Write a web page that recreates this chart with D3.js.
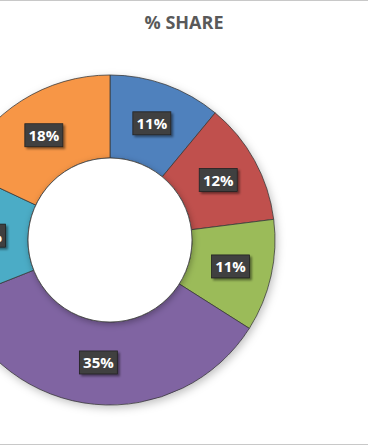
<!DOCTYPE html>
<html>
<head>
<meta charset="utf-8">
<script src="https://cdn.jsdelivr.net/npm/d3@7"></script>
<style>
  body { margin: 0; background: #fff; }
  svg { display: block; }
</style>
</head>
<body>
<script>
// slices, clockwise from 12 o'clock
var categories = ["A", "B", "C", "D", "E", "F"];
var shares = [11, 12, 11, 35, 13, 18];
var colors = ["#4F81BD", "#C0504D", "#9BBB59", "#8064A2", "#4BACC6", "#F79646"];
var title = "% SHARE";

var width = 368, height = 445;
var cx = 110, cy = 240,
	outerR = 165, innerR = 82;

var svg = d3.select("body").append("svg")
	.attr("width", width)
	.attr("height", height);

var defs = svg.append("defs");

var ringShadow = defs.append("filter").attr("id", "ringShadow")
	.attr("x", "-20%").attr("y", "-20%").attr("width", "140%").attr("height", "140%");
ringShadow.append("feDropShadow")
	.attr("dx", 2).attr("dy", 3).attr("stdDeviation", 4)
	.attr("flood-color", "#000").attr("flood-opacity", 0.25);

var holeShadow = defs.append("filter").attr("id", "holeShadow")
	.attr("x", "-20%").attr("y", "-20%").attr("width", "140%").attr("height", "140%");
holeShadow.append("feDropShadow")
	.attr("dx", 1).attr("dy", 2).attr("stdDeviation", 3)
	.attr("flood-color", "#000").attr("flood-opacity", 0.3);

var labelShadow = defs.append("filter").attr("id", "labelShadow")
	.attr("x", "-30%").attr("y", "-30%").attr("width", "160%").attr("height", "160%");
labelShadow.append("feDropShadow")
	.attr("dx", 2).attr("dy", 2).attr("stdDeviation", 1.2)
	.attr("flood-color", "#000").attr("flood-opacity", 0.45);

// chart frame
svg.append("line")
	.attr("x1", 0).attr("x2", width).attr("y1", 0.5).attr("y2", 0.5)
	.attr("stroke", "#c8c8c8");
svg.append("line")
	.attr("x1", 0).attr("x2", width).attr("y1", 444.5).attr("y2", 444.5)
	.attr("stroke", "#c8c8c8");

svg.append("text")
	.attr("x", 184)
	.attr("y", 29)
	.attr("text-anchor", "middle")
	.attr("font-family", "'Open Sans', sans-serif")
	.attr("font-weight", "bold")
	.attr("font-size", 18)
	.attr("fill", "#595959")
	.text(title);

var data = categories.map(function(c, i) { return {name: c, value: shares[i], color: colors[i]}; });

var pie = d3.pie()
	.sort(null)
	.value(function(d) { return d.value; });

var arc = d3.arc()
	.innerRadius(innerR)
	.outerRadius(outerR);

var g = svg.append("g")
	.attr("transform", "translate(" + cx + "," + cy + ")");

var arcs = pie(data);

g.append("circle")
	.attr("r", outerR)
	.attr("fill", "#fff")
	.attr("filter", "url(#ringShadow)");

g.selectAll(".slice")
	.data(arcs)
	.enter().append("path")
	.attr("class", "slice")
	.attr("d", arc)
	.attr("fill", function(d) { return d.data.color; })
	.attr("stroke", "#3a3a3a")
	.attr("stroke-width", 0.8);

g.append("circle")
	.attr("r", innerR)
	.attr("fill", "#fff")
	.attr("stroke", "#3a3a3a")
	.attr("stroke-width", 0.8)
	.attr("filter", "url(#holeShadow)");

var labels = g.selectAll(".lbl")
	.data(arcs)
	.enter().append("g")
	.attr("class", "lbl")
	.attr("transform", function(d) { return "translate(" + arc.centroid(d) + ")"; });

labels.append("rect")
	.attr("x", -19).attr("y", -12)
	.attr("width", 38).attr("height", 23)
	.attr("fill", "#404040")
	.attr("stroke", "#222")
	.attr("stroke-width", 0.8)
	.attr("filter", "url(#labelShadow)");

labels.append("text")
	.attr("text-anchor", "middle")
	.attr("y", 5.5)
	.attr("font-family", "'Open Sans', sans-serif")
	.attr("font-weight", "bold")
	.attr("font-size", 15)
	.attr("fill", "#fff")
	.text(function(d) { return d.data.value + "%"; });
</script>
</body>
</html>
